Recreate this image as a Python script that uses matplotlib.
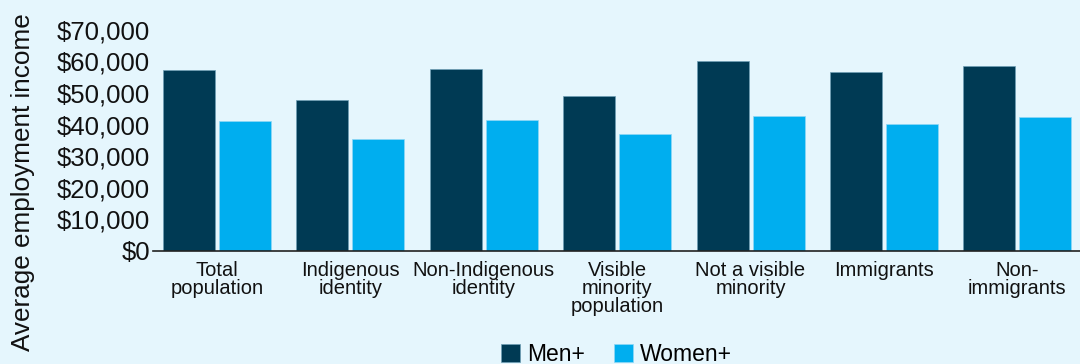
import matplotlib
matplotlib.use("Agg")
import matplotlib.pyplot as plt
import numpy as np
from matplotlib.ticker import FuncFormatter

plt.rcParams["font.family"] = ["Liberation Sans", "DejaVu Sans"]

BG, NAVY, SKY = "#E5F6FD", "#003A54", "#00AEEF"

categories = ["Total\npopulation", "Indigenous\nidentity", "Non-Indigenous\nidentity",
              "Visible\nminority\npopulation", "Not a visible\nminority", "Immigrants",
              "Non-\nimmigrants"]
men = [57200, 47700, 57600, 49000, 60100, 56500, 58600]
women = [41200, 35500, 41500, 37100, 42800, 40100, 42300]
yticks = [0, 10000, 20000, 30000, 40000, 50000, 60000, 70000]

fig = plt.figure(figsize=(10.8, 3.64), dpi=100, facecolor=BG)
ax = fig.add_axes([0.1417, 0.311, 0.8583, 0.607], facecolor=BG)

x = np.arange(len(categories))
w = 0.39
ax.bar(x - 0.21, men, w, color=NAVY, edgecolor="#6f9fb5", linewidth=0.5, label="Men+")
ax.bar(x + 0.21, women, w, color=SKY, edgecolor="#8fd8f5", linewidth=0.5, label="Women+")

ax.set_xlim(-0.48, 6.47)
ax.set_ylim(0, 70000)
ax.set_yticks(yticks)
ax.yaxis.set_major_formatter(FuncFormatter(lambda v, p: f"${v:,.0f}"))
ax.set_xticks(x)
ax.set_xticklabels(categories, fontsize=14.5, linespacing=0.95)
ax.tick_params(axis="y", length=0, labelsize=18.5, pad=2, colors="#111111")
ax.tick_params(axis="x", length=0, pad=7, colors="#111111")
for s in ["top", "right", "left"]:
    ax.spines[s].set_visible(False)
ax.spines["bottom"].set_color("#222222")
ax.spines["bottom"].set_linewidth(1.2)

fig.text(0.021, 0.5, "Average employment income", rotation=90, ha="center", va="center",
         fontsize=18.8, color="#111111")

ax.legend(loc="center", bbox_to_anchor=(0.5, -0.47), ncol=2, frameon=False,
          fontsize=16.5, handlelength=0.8, handleheight=0.8, handletextpad=0.3,
          columnspacing=1.3)

fig.savefig("out.png", dpi=100, facecolor=BG)
